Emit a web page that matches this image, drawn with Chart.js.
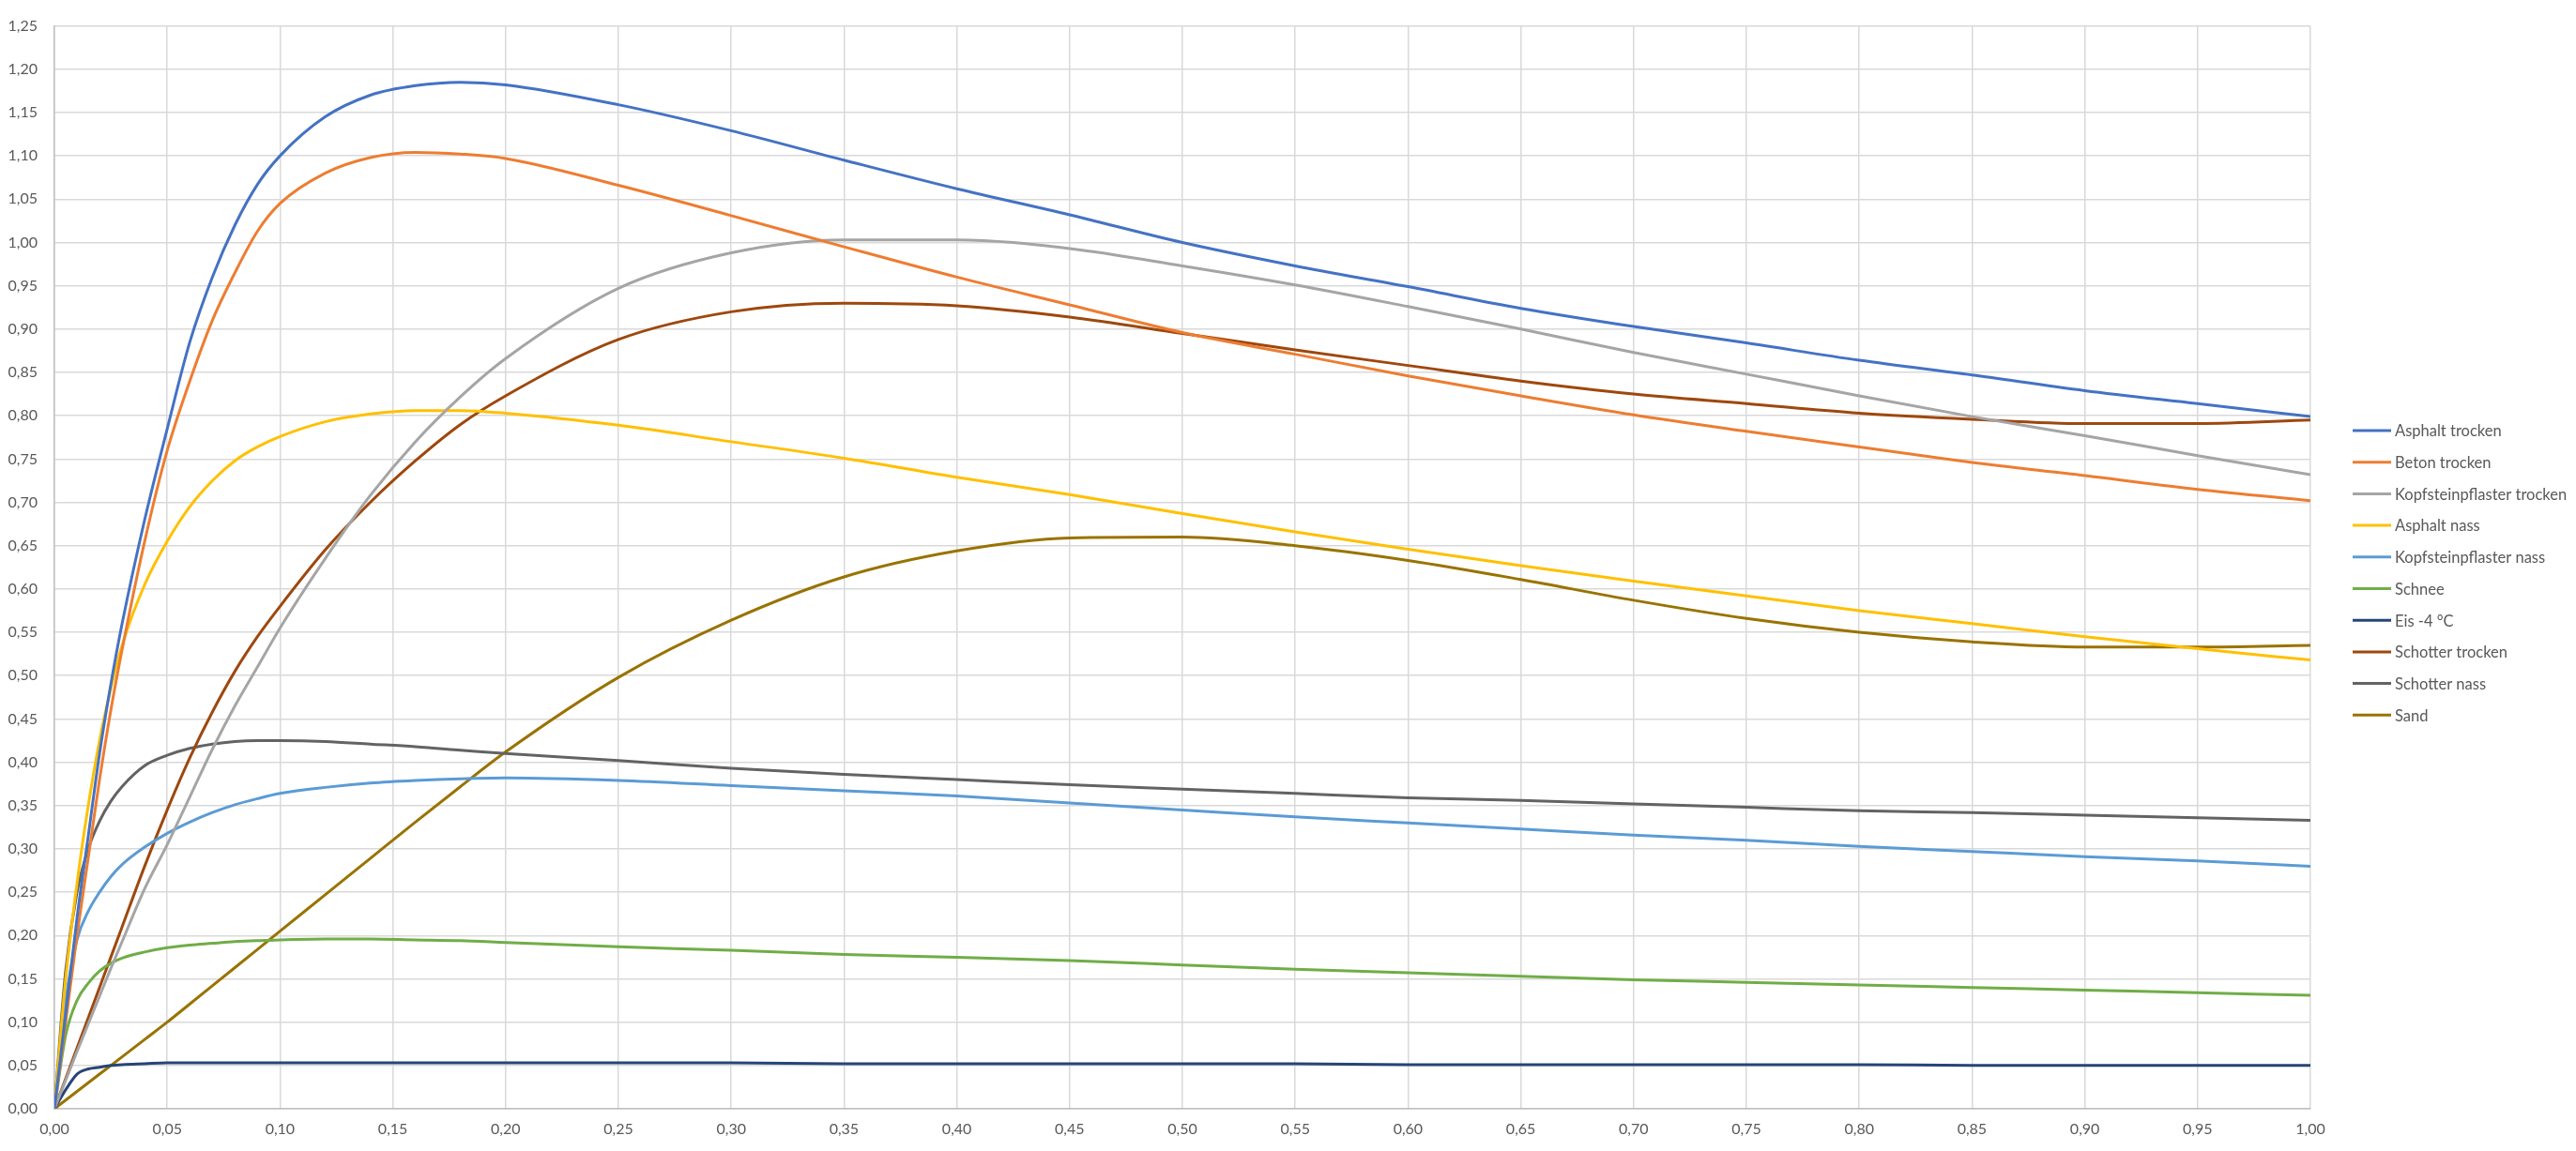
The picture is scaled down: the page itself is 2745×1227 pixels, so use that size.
<!DOCTYPE html>
<html>
<head>
<meta charset="utf-8">
<script src="https://cdn.jsdelivr.net/npm/chart.js@4.4.1/dist/chart.umd.min.js"></script>
<style>
  html, body { margin: 0; padding: 0; background: #fff; }
  #wrap { width: 2745px; height: 1227px; }
</style>
</head>
<body>
<div id="wrap"><canvas id="myChart" width="2745" height="1227"></canvas></div>
<script>
// slip values (x axis)
var xValues = [0, 0.005, 0.01, 0.015, 0.02, 0.025, 0.03, 0.04, 0.05, 0.06, 0.07, 0.08, 0.09, 0.10,
  0.12, 0.14, 0.16, 0.18, 0.20, 0.25, 0.30, 0.35, 0.40, 0.45, 0.50, 0.55, 0.60, 0.65, 0.70,
  0.75, 0.80, 0.85, 0.90, 0.95, 1.00];

var asphaltTrocken = [0, 0.11, 0.22, 0.315, 0.41, 0.49, 0.56, 0.68, 0.785, 0.885, 0.96, 1.02, 1.067, 1.10,
  1.145, 1.17, 1.181, 1.185, 1.182, 1.159, 1.129, 1.095, 1.062, 1.032, 1.000, 0.973, 0.949, 0.924, 0.903,
  0.884, 0.864, 0.847, 0.829, 0.814, 0.799];
var betonTrocken = [0, 0.10, 0.20, 0.29, 0.38, 0.46, 0.53, 0.655, 0.76, 0.84, 0.91, 0.965, 1.013, 1.045,
  1.08, 1.098, 1.104, 1.102, 1.097, 1.066, 1.031, 0.995, 0.960, 0.928, 0.896, 0.871, 0.846, 0.823, 0.801,
  0.782, 0.764, 0.746, 0.731, 0.715, 0.702];
var kopfTrocken = [0, 0.033, 0.066, 0.098, 0.13, 0.162, 0.193, 0.254, 0.305, 0.36, 0.415, 0.465, 0.51, 0.555,
  0.635, 0.708, 0.77, 0.822, 0.866, 0.947, 0.988, 1.003, 1.003, 0.993, 0.973, 0.951, 0.926, 0.900, 0.873,
  0.848, 0.823, 0.799, 0.777, 0.754, 0.732];
var asphaltNass = [0, 0.15, 0.26, 0.35, 0.425, 0.485, 0.535, 0.605, 0.655, 0.695, 0.725, 0.748, 0.764, 0.776,
  0.793, 0.802, 0.806, 0.806, 0.803, 0.789, 0.770, 0.751, 0.729, 0.709, 0.687, 0.666, 0.646, 0.627, 0.609,
  0.592, 0.575, 0.560, 0.545, 0.531, 0.518];
var kopfNass = [0, 0.125, 0.195, 0.228, 0.25, 0.268, 0.282, 0.302, 0.318, 0.331, 0.342, 0.351, 0.358, 0.364,
  0.371, 0.376, 0.379, 0.381, 0.382, 0.379, 0.373, 0.367, 0.361, 0.353, 0.345, 0.337, 0.330, 0.323, 0.316,
  0.310, 0.303, 0.297, 0.291, 0.286, 0.280];
var schnee = [0, 0.085, 0.125, 0.145, 0.159, 0.168, 0.174, 0.181, 0.186, 0.189, 0.191, 0.193, 0.194, 0.195,
  0.196, 0.196, 0.195, 0.194, 0.192, 0.187, 0.183, 0.178, 0.175, 0.171, 0.166, 0.161, 0.157, 0.153, 0.149,
  0.146, 0.143, 0.140, 0.137, 0.134, 0.131];
var eis = [0, 0.022, 0.040, 0.046, 0.048, 0.050, 0.051, 0.052, 0.053, 0.053, 0.053, 0.053, 0.053, 0.053,
  0.053, 0.053, 0.053, 0.053, 0.053, 0.053, 0.053, 0.052, 0.052, 0.052, 0.052, 0.052, 0.051, 0.051, 0.051,
  0.051, 0.051, 0.050, 0.050, 0.050, 0.050];
var schotterTrocken = [0, 0.035, 0.07, 0.105, 0.14, 0.175, 0.21, 0.28, 0.345, 0.405, 0.458, 0.505, 0.545, 0.58,
  0.645, 0.70, 0.748, 0.79, 0.823, 0.888, 0.920, 0.930, 0.927, 0.914, 0.895, 0.876, 0.858, 0.840, 0.825,
  0.814, 0.803, 0.796, 0.791, 0.791, 0.795];
var schotterNass = [0, 0.16, 0.25, 0.30, 0.332, 0.355, 0.372, 0.396, 0.408, 0.416, 0.421, 0.424, 0.425, 0.425,
  0.424, 0.421, 0.418, 0.414, 0.410, 0.402, 0.393, 0.386, 0.380, 0.374, 0.369, 0.364, 0.359, 0.356, 0.352,
  0.348, 0.344, 0.342, 0.339, 0.336, 0.333];
var sand = [0, 0.01, 0.02, 0.03, 0.04, 0.05, 0.06, 0.08, 0.10, 0.121, 0.142, 0.163, 0.184, 0.205,
  0.247, 0.289, 0.331, 0.372, 0.412, 0.498, 0.564, 0.614, 0.644, 0.659, 0.660, 0.650, 0.633, 0.611, 0.587,
  0.566, 0.550, 0.539, 0.533, 0.533, 0.535];

var seriesNames = ["Asphalt trocken", "Beton trocken", "Kopfsteinpflaster trocken", "Asphalt nass",
  "Kopfsteinpflaster nass", "Schnee", "Eis -4 °C", "Schotter trocken", "Schotter nass", "Sand"];
var seriesValues = [asphaltTrocken, betonTrocken, kopfTrocken, asphaltNass, kopfNass, schnee, eis,
  schotterTrocken, schotterNass, sand];
var lineColors = ["#4472C4", "#ED7D31", "#A5A5A5", "#FFC000", "#5B9BD5", "#70AD47", "#264478",
  "#9E480E", "#636363", "#997300"];

var fontName = "Lato, 'Liberation Sans', sans-serif";
var textColor = "#595959";

function comma(v){
  return Number(v).toFixed(2).replace(".", ",");
}

// legend drawn at the right like the excel one
var sideLegend = {
  id: "sideLegend",
  afterDraw: function(chart){
    var ctx = chart.ctx;
    var sets = chart.data.datasets;
    ctx.save();
    ctx.font = "16.5px " + fontName;
    ctx.fillStyle = textColor;
    ctx.textBaseline = "middle";
    ctx.textAlign = "left";
    for (var i = 0; i < sets.length; i++){
      var y = 459 + i * 33.7;
      ctx.strokeStyle = sets[i].borderColor;
      ctx.lineWidth = 3;
      ctx.beginPath();
      ctx.moveTo(2507, y);
      ctx.lineTo(2548, y);
      ctx.stroke();
      ctx.fillText(sets[i].label, 2552, y + 1);
    }
    ctx.restore();
  }
};

var datasets = seriesNames.map(function(name, i){
  return {
    label: name,
    data: xValues.map(function(x, j){ return {x: x, y: seriesValues[i][j]}; }),
    borderColor: lineColors[i],
    backgroundColor: lineColors[i],
    borderWidth: 3,
    pointRadius: 0,
    fill: false,
    cubicInterpolationMode: "monotone"
  };
});

new Chart("myChart", {
  type: "line",
  data: { datasets: datasets },
  plugins: [sideLegend],
  options: {
    responsive: false,
    animation: false,
    layout: { padding: { top: 16, right: 283, left: 0, bottom: 0 } },
    plugins: {
      legend: { display: false },
      tooltip: { enabled: false }
    },
    scales: {
      x: {
        type: "linear",
        min: 0,
        max: 1,
        afterFit: function(scale){ scale.height = 45; },
        ticks: {
          stepSize: 0.05,
          padding: 12,
          color: textColor,
          font: { family: fontName, size: 16 },
          maxRotation: 0,
          autoSkip: false,
          callback: function(v){ return comma(v); }
        },
        grid: { color: "#D9D9D9", lineWidth: 1.5, drawTicks: false },
        border: { color: "#BFBFBF", width: 1.5 }
      },
      y: {
        min: 0,
        max: 1.25,
        afterFit: function(scale){ scale.width = 58; },
        ticks: {
          stepSize: 0.05,
          padding: 18,
          color: textColor,
          font: { family: fontName, size: 16 },
          autoSkip: false,
          callback: function(v){ return comma(v); }
        },
        grid: { color: "#D9D9D9", lineWidth: 1.5, drawTicks: false },
        border: { color: "#BFBFBF", width: 1.5 }
      }
    }
  }
});
</script>
</body>
</html>
